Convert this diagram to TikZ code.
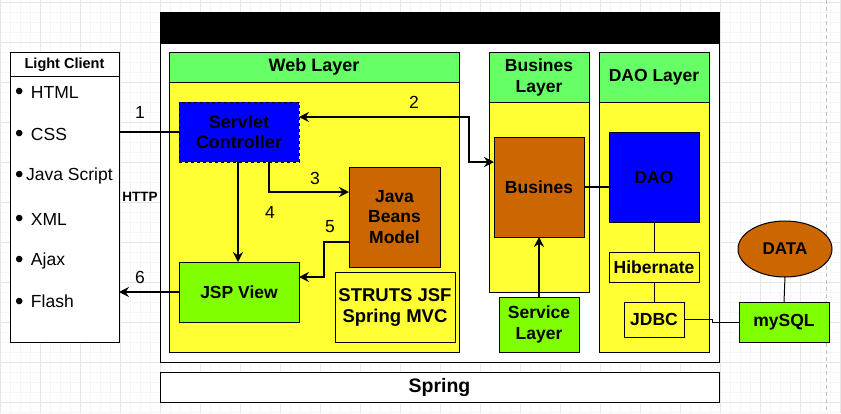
\documentclass[tikz,border=0pt]{standalone}
\usepackage{fontspec}
\setmainfont{Liberation Sans}
\usetikzlibrary{arrows.meta,calc,shapes.geometric}
\definecolor{gridminor}{HTML}{F5F5F5}
\definecolor{gridmajor}{HTML}{E6E6E6}
\definecolor{pagebreak}{HTML}{C0C0C0}
\definecolor{laneGreen}{HTML}{66FF66}
\definecolor{laneYellow}{HTML}{FFFF33}
\definecolor{boxBlue}{HTML}{0000FF}
\definecolor{boxOrange}{HTML}{CC6600}
\definecolor{boxLime}{HTML}{80FF00}
\def\bul{\raisebox{-1.6pt}{\fontsize{24}{20}\selectfont•}\hspace{2.5pt}}
\tikzset{
	box/.style={draw, line width=1pt, inner sep=0pt, outer sep=0pt, align=center, font=\bfseries\fontsize{18}{20.5}\selectfont},
	flow/.style={line width=2pt, -{Stealth[length=10pt,width=10pt,inset=3.5pt]}},
	flowboth/.style={line width=2pt, {Stealth[length=10pt,width=10pt,inset=3.5pt]}-{Stealth[length=10pt,width=10pt,inset=3.5pt]}},
	link/.style={line width=1pt},
	num/.style={font=\fontsize{17.5}{20}\selectfont},
	item/.style={anchor=west, inner sep=0pt, font=\fontsize{17.5}{20}\selectfont},
}

\begin{document}
\begin{tikzpicture}[x=1pt, y=-1pt]
		%%%%% START %%%%%
		\useasboundingbox (0, 0) rectangle (841, 413);
		
		% canvas grid
		\foreach \x in {0,10,...,840} \draw[line width=0.5pt, color=gridminor] (\x, 0) -- (\x, 413);
		\foreach \y in {2,12,...,412} \draw[line width=0.5pt, color=gridminor] (0, \y) -- (841, \y);
		\foreach \x in {0,40,...,840} \draw[line width=0.7pt, color=gridmajor] (\x, 0) -- (\x, 413);
		\foreach \y in {2,42,...,402} \draw[line width=0.7pt, color=gridmajor] (0, \y) -- (841, \y);
		\draw[line width=0.8pt, color=pagebreak, dash pattern=on 4pt off 3pt] (826, 0) -- (826, 413);
		
		% light client
		\node[box, fill=white, minimum width=109pt, minimum height=290pt] (lightclient) at (64.5, 197) {};
		\draw[line width=1pt] (10, 76) -- (119, 76);
		\node[font=\bfseries\fontsize{14.5}{16}\selectfont] (lighttitle) at (64.5, 65) {Light Client};
		\node[item] (html) at (15, 93) {\bul\ HTML};
		\node[item] (css) at (15, 135) {\bul\ CSS};
		\node[item] (js) at (15, 176) {\bul Java Script};
		\node[item] (xml) at (15, 220) {\bul\ XML};
		\node[item] (ajax) at (15, 261) {\bul\ Ajax};
		\node[item] (flash) at (15, 302) {\bul\ Flash};
		
		% container
		\draw[line width=1pt, fill=white] (160, 12) rectangle (719, 362);
		\draw[fill=black] (160, 12) rectangle (719, 43);
		\node[box, fill=white, minimum width=559pt, minimum height=30pt, font=\bfseries\fontsize{19.5}{22}\selectfont] (spring) at (439.5, 387) {Spring};
		
		% web layer
		\draw[line width=1pt, fill=laneYellow] (169, 52) rectangle (459, 352);
		\node[box, fill=laneGreen, minimum width=290pt, minimum height=30pt] (weblayer) at (314, 67) {Web Layer};
		\node[box, fill=boxBlue, dashed, minimum width=120pt, minimum height=60pt] (servlet) at (239, 132) {Servlet\\Controller};
		\node[box, fill=boxOrange, minimum width=91pt, minimum height=100pt, font=\bfseries\fontsize{17.5}{20.5}\selectfont] (beans) at (394.5, 217) {Java\\Beans\\Model};
		\node[box, fill=boxLime, minimum width=120pt, minimum height=60pt, font=\bfseries\fontsize{17.5}{20}\selectfont] (jspview) at (239, 292) {JSP View};
		\node[box, fill=laneYellow, minimum width=120pt, minimum height=70pt, font=\bfseries\fontsize{18.5}{21}\selectfont] (struts) at (395, 307) {STRUTS JSF\\Spring MVC};
		
		% busines layer
		\draw[line width=1pt, fill=laneYellow] (489, 52) rectangle (589, 292);
		\node[box, fill=laneGreen, minimum width=100pt, minimum height=50pt, font=\bfseries\fontsize{17.5}{21}\selectfont] (buslayer) at (539, 77) {Busines\\Layer};
		\node[box, fill=boxOrange, minimum width=90pt, minimum height=100pt, font=\bfseries\fontsize{17.5}{20}\selectfont] (bus) at (539, 187) {Busines};
		\node[box, fill=boxLime, minimum width=80pt, minimum height=55pt, font=\bfseries\fontsize{17.5}{20.5}\selectfont] (service) at (539, 324.5) {Service\\Layer};
		
		% dao layer
		\draw[line width=1pt, fill=laneYellow] (599, 52) rectangle (709, 352);
		\node[box, fill=laneGreen, minimum width=110pt, minimum height=50pt, font=\bfseries\fontsize{17.5}{20}\selectfont] (daolayer) at (654, 77) {DAO Layer};
		\node[box, fill=boxBlue, minimum width=90pt, minimum height=90pt, font=\bfseries\fontsize{17.5}{20}\selectfont] (dao) at (654, 177) {DAO};
		\node[box, fill=laneYellow, minimum width=90pt, minimum height=30pt, font=\bfseries\fontsize{17.5}{20}\selectfont] (hib) at (654, 267) {Hibernate};
		\node[box, fill=laneYellow, minimum width=60pt, minimum height=35pt, font=\bfseries\fontsize{17.5}{20}\selectfont] (jdbc) at (654, 319.5) {JDBC};
		
		% database
		\node[box, ellipse, fill=boxOrange, minimum width=94pt, minimum height=56pt, font=\bfseries\fontsize{17}{20}\selectfont] (data) at (785, 249) {DATA};
		\node[box, fill=boxLime, minimum width=90pt, minimum height=40pt, font=\bfseries\fontsize{17.5}{20}\selectfont] (mysql) at (784, 322) {mySQL};
		
		% connectors
		\draw[line width=2pt] (servlet.west -| lightclient.east) -- (servlet.west);
		\draw[flowboth] ([yshift=15pt]servlet.east) -| ([xshift=-25pt, yshift=25pt]bus.west) -- ([yshift=25pt]bus.west);
		\draw[flow] ([xshift=30pt]servlet.south) |- ([yshift=25pt]beans.west);
		\draw[flow] ([xshift=-1pt]servlet.south) -- ([xshift=-1pt]jspview.north);
		\draw[flow] ([yshift=-25pt]beans.west) -- ++(-25, 0) |- ([yshift=15pt]jspview.east);
		\draw[flow] (jspview.west) -- (jspview.west -| lightclient.east);
		\draw[line width=2pt] (bus.east) -- (bus.east -| dao.west);
		\draw[flow] (service.north) -- (bus.south);
		\draw[link] (dao.south) -- (hib.north);
		\draw[link] (hib.south) -- (jdbc.north);
		\draw[link] (jdbc.east) -- ++(28, 0) |- (mysql.west);
		\draw[link] (data.south) -- (mysql.north);
		
		% step labels
		\node[num] (n1) at (140, 112) {1};
		\node[num] (n2) at (414, 102) {2};
		\node[num] (n3) at (315, 178) {3};
		\node[num] (n4) at (270, 212) {4};
		\node[num] (n5) at (330, 227) {5};
		\node[num] (n6) at (140, 277) {6};
		\node[font=\bfseries\fontsize{13.5}{15}\selectfont] (http) at (140, 197) {HTTP};
		%%%%% END %%%%%
\end{tikzpicture}
\end{document}
